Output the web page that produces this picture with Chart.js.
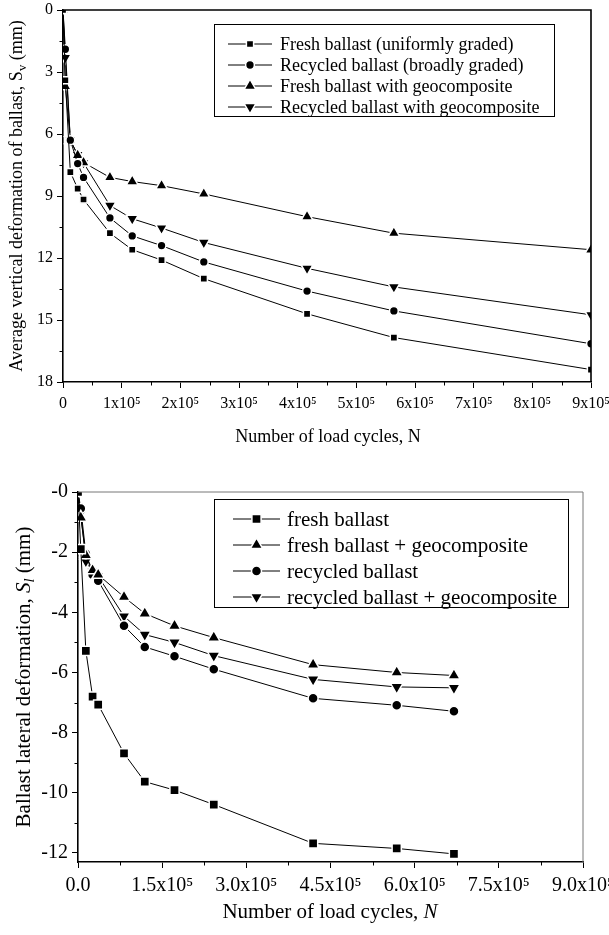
<!DOCTYPE html>
<html>
<head>
<meta charset="utf-8">
<script src="https://cdn.jsdelivr.net/npm/chart.js@4.4.0/dist/chart.umd.min.js"></script>
<style>
    html, body { margin: 0; padding: 0; background: #fff; }
    .box { position: relative; width: 609px; }
    #topBox { height: 460px; }
    #bottomBox { height: 475px; }
</style>
</head>
<body>
<div class="box" id="topBox"><canvas id="verticalChart"></canvas></div>
<div class="box" id="bottomBox"><canvas id="lateralChart"></canvas></div>
<script>
// ---- data: vertical deformation (top figure) ----
const cyclesVertical = [0, 4000, 12500, 25000, 35000, 80000, 118000, 168000, 240000, 416000, 564000, 900000];
const freshVertical = [0, 3.4, 7.84, 8.64, 9.17, 10.8, 11.6, 12.1, 13.0, 14.7, 15.85, 17.4];
const recycledVertical = [0, 1.9, 6.3, 7.43, 8.1, 10.06, 10.93, 11.4, 12.19, 13.6, 14.56, 16.15];
const freshGeoVertical = [0, 3.7, 6.3, 7.03, 7.38, 8.1, 8.3, 8.5, 8.9, 10.0, 10.8, 11.6];
const recycledGeoVertical = [0, 2.3, 6.3, 7.0, 7.4, 9.46, 10.1, 10.55, 11.25, 12.5, 13.4, 14.75];
const verticalYTicks = [0, 3, 6, 9, 12, 15, 18];
const verticalXTicks = [0, 100000, 200000, 300000, 400000, 500000, 600000, 700000, 800000, 900000];
const verticalXLabels = ['0', '1x10⁵', '2x10⁵', '3x10⁵', '4x10⁵', '5x10⁵', '6x10⁵', '7x10⁵', '8x10⁵', '9x10⁵'];

// ---- data: lateral deformation (bottom figure) ----
const cyclesLateral = [0, 5000, 14000, 26000, 36000, 82000, 119000, 172000, 242000, 419000, 568000, 670000];
const freshLateral = [0, -1.9, -5.28, -6.8, -7.07, -8.69, -9.63, -9.91, -10.39, -11.68, -11.85, -12.03];
const freshGeoLateral = [0, -0.85, -2.1, -2.6, -2.75, -3.49, -4.04, -4.45, -4.84, -5.74, -6.0, -6.1];
const recycledLateral = [0, -0.55, -2.05, -2.75, -2.95, -4.45, -5.15, -5.46, -5.89, -6.86, -7.09, -7.29];
const recycledGeoLateral = [0, -0.7, -2.3, -2.65, -2.8, -4.13, -4.74, -5.0, -5.44, -6.23, -6.48, -6.51];
const lateralYTicks = [0, -2, -4, -6, -8, -10, -12];
const lateralYLabels = ['-0', '-2', '-4', '-6', '-8', '-10', '-12'];
const lateralXTicks = [0, 150000, 300000, 450000, 600000, 750000, 900000];
const lateralXLabels = ['0.0', '1.5x10⁵', '3.0x10⁵', '4.5x10⁵', '6.0x10⁵', '7.5x10⁵', '9.0x10⁵'];

const SERIF = "'Liberation Serif', 'Times New Roman', serif";

const toPoints = (xs, ys) => xs.map((x, i) => ({ x: x, y: ys[i] }));

const makeSet = (label, xs, ys, style, radius, rotation) => ({
    label: label,
    data: toPoints(xs, ys),
    showLine: true,
    borderColor: '#000',
    borderWidth: 1,
    backgroundColor: '#000',
    pointStyle: style,
    pointRotation: rotation || 0,
    pointRadius: radius,
    pointHoverRadius: radius,
    pointBackgroundColor: '#000',
    pointBorderColor: '#fff',
    pointBorderWidth: 1.5,
    tension: 0
});

// draws a string made of parts (italic / subscript), centred on (x, y)
function drawParts(ctx, parts, x, y, size, rotate) {
    const fontOf = p => (p.italic ? 'italic ' : '') + (p.sub ? size * 0.7 : size) + 'px ' + SERIF;
    let total = 0;
    parts.forEach(p => { ctx.font = fontOf(p); total += ctx.measureText(p.t).width; });
    ctx.save();
    ctx.translate(x, y);
    if (rotate) ctx.rotate(-Math.PI / 2);
    ctx.fillStyle = '#000';
    ctx.textBaseline = 'middle';
    ctx.textAlign = 'left';
    let cx = -total / 2;
    parts.forEach(p => {
        ctx.font = fontOf(p);
        ctx.fillText(p.t, cx, p.sub ? size * 0.3 : 0);
        cx += ctx.measureText(p.t).width;
    });
    ctx.restore();
}

const decorPlugin = {
    id: 'decor',
    afterDraw(chart, args, o) {
        const ctx = chart.ctx;
        const a = chart.chartArea;
        const xs = chart.scales.x, ys = chart.scales.y;
        ctx.save();

        // top and right frame
        ctx.strokeStyle = o.frameColor;
        ctx.lineWidth = o.frameWidth;
        ctx.beginPath();
        ctx.moveTo(a.left, a.top);
        ctx.lineTo(a.right, a.top);
        ctx.lineTo(a.right, a.bottom);
        ctx.stroke();

        // minor ticks half way between the major ones
        ctx.strokeStyle = '#000';
        ctx.lineWidth = 1;
        ctx.beginPath();
        for (let i = 0; i < o.xMajor.length - 1; i++) {
            const px = Math.round(xs.getPixelForValue((o.xMajor[i] + o.xMajor[i + 1]) / 2)) + 0.5;
            ctx.moveTo(px, a.bottom);
            ctx.lineTo(px, a.bottom + 3.5);
        }
        for (let i = 0; i < o.yMajor.length - 1; i++) {
            const py = Math.round(ys.getPixelForValue((o.yMajor[i] + o.yMajor[i + 1]) / 2)) + 0.5;
            ctx.moveTo(a.left, py);
            ctx.lineTo(a.left - 3.5, py);
        }
        ctx.stroke();

        // legend box
        const L = o.legend;
        ctx.strokeStyle = '#000';
        ctx.lineWidth = 1;
        ctx.strokeRect(L.left + 0.5, L.top + 0.5, L.width, L.height);
        L.order.forEach((di, row) => {
            const ds = chart.data.datasets[di];
            const y = L.firstRow + row * L.rowGap;
            ctx.strokeStyle = '#000';
            ctx.lineWidth = 1;
            ctx.beginPath();
            ctx.moveTo(L.lineX1, y);
            ctx.lineTo(L.lineX2, y);
            ctx.stroke();
            ctx.fillStyle = '#000';
            ctx.strokeStyle = '#fff';
            ctx.lineWidth = 1.5;
            Chart.helpers.drawPoint(ctx, {
                pointStyle: ds.pointStyle,
                rotation: ds.pointRotation,
                radius: ds.pointRadius,
                borderWidth: 1.5
            }, (L.lineX1 + L.lineX2) / 2, y);
            ctx.fillStyle = '#000';
            ctx.font = L.fontSize + 'px ' + SERIF;
            ctx.textBaseline = 'middle';
            ctx.textAlign = 'left';
            ctx.fillText(ds.label, L.textX, y + 1);
        });

        // axis titles
        drawParts(ctx, o.xTitle.parts, o.xTitle.x, o.xTitle.y, o.xTitle.size, false);
        drawParts(ctx, o.yTitle.parts, o.yTitle.x, o.yTitle.y, o.yTitle.size, true);
        ctx.restore();
    }
};

// fixes the axis boxes so the plot area sits where the figure has it
const fixWidth = w => function(scale) {
    scale.width = w;
    scale.paddingTop = 0; scale.paddingBottom = 0;
};
const fixHeight = h => function(scale) {
    scale.height = h;
    scale.paddingLeft = 0; scale.paddingRight = 0;
};

const axisStyle = (fontSize) => ({
    border: { color: '#000', width: 1.6 },
    grid: { display: true, drawOnChartArea: false, drawTicks: true, tickLength: 6, color: '#000', lineWidth: 1 },
    ticks: { color: '#000', font: { family: SERIF, size: fontSize }, maxRotation: 0, autoSkip: false }
});

// ---------- top figure ----------
const vx = axisStyle(16), vy = axisStyle(16);
new Chart(document.getElementById('verticalChart').getContext('2d'), {
    type: 'scatter',
    data: {
        datasets: [
            makeSet('Fresh ballast (uniformly graded)', cyclesVertical, freshVertical, 'rect', 5.1),
            makeSet('Recycled ballast (broadly graded)', cyclesVertical, recycledVertical, 'circle', 4.4),
            makeSet('Fresh ballast with geocomposite', cyclesVertical, freshGeoVertical, 'triangle', 6.8),
            makeSet('Recycled ballast with geocomposite', cyclesVertical, recycledGeoVertical, 'triangle', 6.8, 180)
        ]
    },
    options: {
        responsive: true,
        maintainAspectRatio: false,
        animation: false,
        layout: { padding: { top: 10, right: 18, left: 0, bottom: 0 } },
        scales: {
            x: Object.assign(vx, {
                type: 'linear', min: 0, max: 900000,
                afterBuildTicks: s => { s.ticks = verticalXTicks.map(v => ({ value: v })); },
                afterFit: fixHeight(78),
                ticks: Object.assign(vx.ticks, { padding: 6, callback: (v, i) => verticalXLabels[i] })
            }),
            y: Object.assign(vy, {
                type: 'linear', min: 0, max: 18, reverse: true,
                afterBuildTicks: s => { s.ticks = verticalYTicks.map(v => ({ value: v })); },
                afterFit: fixWidth(63),
                ticks: Object.assign(vy.ticks, { padding: 4, callback: v => String(v) })
            })
        },
        plugins: {
            legend: { display: false },
            tooltip: { enabled: false },
            decor: {
                frameColor: '#000', frameWidth: 1.6,
                xMajor: verticalXTicks, yMajor: verticalYTicks,
                legend: {
                    left: 214, top: 24, width: 340, height: 92,
                    firstRow: 44, rowGap: 21, lineX1: 228, lineX2: 272, textX: 280, fontSize: 18,
                    order: [0, 1, 2, 3]
                },
                xTitle: { parts: [{ t: 'Number of load cycles, N' }], x: 328, y: 437, size: 18 },
                yTitle: {
                    parts: [{ t: 'Average vertical deformation of ballast, S' }, { t: 'v', sub: true }, { t: ' (mm)' }],
                    x: 17, y: 196, size: 18
                }
            }
        }
    },
    plugins: [decorPlugin]
});

// ---------- bottom figure ----------
const lx = axisStyle(20), ly = axisStyle(20);
new Chart(document.getElementById('lateralChart').getContext('2d'), {
    type: 'scatter',
    data: {
        datasets: [
            makeSet('fresh ballast', cyclesLateral, freshLateral, 'rect', 6.5),
            makeSet('fresh ballast + geocomposite', cyclesLateral, freshGeoLateral, 'triangle', 7.2),
            makeSet('recycled ballast', cyclesLateral, recycledLateral, 'circle', 5),
            makeSet('recycled ballast + geocomposite', cyclesLateral, recycledGeoLateral, 'triangle', 7.2, 180)
        ]
    },
    options: {
        responsive: true,
        maintainAspectRatio: false,
        animation: false,
        layout: { padding: { top: 32, right: 26, left: 0, bottom: 0 } },
        scales: {
            x: Object.assign(lx, {
                type: 'linear', min: 0, max: 900000,
                afterBuildTicks: s => { s.ticks = lateralXTicks.map(v => ({ value: v })); },
                afterFit: fixHeight(73),
                ticks: Object.assign(lx.ticks, { padding: 6, callback: (v, i) => lateralXLabels[i] })
            }),
            y: Object.assign(ly, {
                type: 'linear', min: -12.3, max: 0,
                afterBuildTicks: s => { s.ticks = lateralYTicks.map(v => ({ value: v })); },
                afterFit: fixWidth(78),
                ticks: Object.assign(ly.ticks, { padding: 4, callback: (v) => lateralYLabels[lateralYTicks.indexOf(v)] })
            })
        },
        plugins: {
            legend: { display: false },
            tooltip: { enabled: false },
            decor: {
                frameColor: '#777', frameWidth: 1,
                xMajor: lateralXTicks, yMajor: lateralYTicks,
                legend: {
                    left: 214, top: 39, width: 354, height: 108,
                    firstRow: 59, rowGap: 26, lineX1: 233, lineX2: 280, textX: 287, fontSize: 21,
                    order: [0, 1, 2, 3]
                },
                xTitle: {
                    parts: [{ t: 'Number of load cycles, ' }, { t: 'N', italic: true }],
                    x: 330, y: 452, size: 21
                },
                yTitle: {
                    parts: [{ t: 'Ballast lateral deformation, ' }, { t: 'S', italic: true }, { t: 'l', italic: true, sub: true }, { t: ' (mm)' }],
                    x: 24, y: 217, size: 21
                }
            }
        }
    },
    plugins: [decorPlugin]
});
</script>
</body>
</html>
